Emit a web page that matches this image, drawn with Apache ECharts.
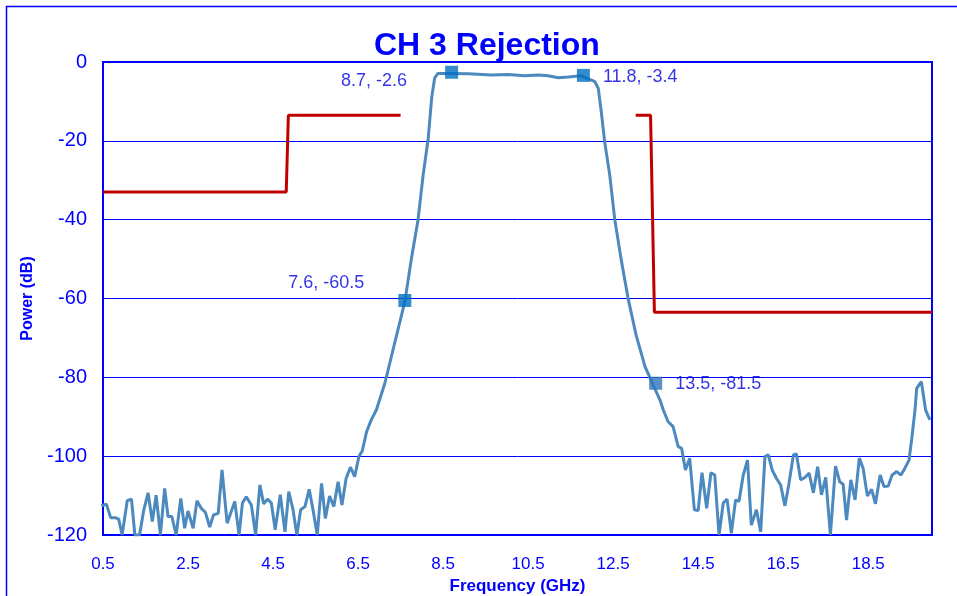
<!DOCTYPE html>
<html>
<head>
<meta charset="utf-8">
<title>CH 3 Rejection</title>
<script src="https://cdn.jsdelivr.net/npm/echarts@6/dist/echarts.min.js"></script>
<style>
  html, body { margin: 0; padding: 0; background: #fff; }
  #chart { width: 957px; height: 596px; }
</style>
</head>
<body>
<div id="chart"></div>
<script>
// x tick labels (GHz)
var freqTicks = [0.5, 2.5, 4.5, 6.5, 8.5, 10.5, 12.5, 14.5, 16.5, 18.5]

var measured = [
  [0.46, -112.6], [0.58, -112.2], [0.68, -115.6], [0.79, -115.6], [0.87, -116.0],
  [0.95, -120], [1.07, -111.3], [1.17, -110.9], [1.25, -120], [1.36, -120],
  [1.46, -113.6], [1.56, -109.3], [1.66, -116.6], [1.75, -109.9], [1.85, -120],
  [1.95, -108.2], [2.03, -115.3], [2.12, -115.3], [2.22, -120], [2.33, -110.7],
  [2.42, -118.3], [2.5, -113.9], [2.62, -118.3], [2.71, -111.3], [2.81, -113.2],
  [2.91, -114.3], [3.01, -118.0], [3.10, -114.9], [3.21, -114.5], [3.30, -103.5],
  [3.42, -117.0], [3.6, -111.5], [3.70, -120], [3.78, -111.9], [3.87, -110.3],
  [3.99, -112.4], [4.09, -120], [4.19, -107.3], [4.28, -112.1], [4.37, -110.9],
  [4.46, -111.9], [4.55, -118.7], [4.67, -109.8], [4.78, -119.2], [4.87, -109.0],
  [4.97, -113.6], [5.06, -120], [5.15, -113.6], [5.25, -112.8], [5.35, -108.4],
  [5.44, -113.6], [5.54, -120], [5.64, -106.9], [5.73, -115.8], [5.83, -110.1],
  [5.93, -112.8], [6.03, -106.5], [6.12, -112.4], [6.22, -105.6], [6.32, -102.8],
  [6.42, -105.2], [6.52, -100.1], [6.60, -98.6], [6.70, -93.8], [6.81, -90.8],
  [6.93, -88.3], [7.13, -81.5], [7.35, -71.8], [7.60, -60.8], [7.75, -50.2],
  [7.91, -40.1], [8.03, -28.7], [8.15, -19.4], [8.23, -9.2], [8.30, -4.1],
  [8.38, -2.9], [8.66, -2.9], [9.09, -3.0], [9.64, -3.3], [10.03, -3.2],
  [10.42, -3.5], [10.74, -3.3], [10.97, -3.5], [11.21, -4.0], [11.45, -3.8],
  [11.75, -3.5], [12.07, -5.0], [12.15, -6.7], [12.22, -12.6], [12.30, -20.2],
  [12.42, -28.7], [12.54, -40.1], [12.69, -50.2], [12.85, -59.9], [13.04, -69.3],
  [13.25, -77.3], [13.44, -81.9], [13.60, -85.7], [13.68, -88.3], [13.79, -91.2],
  [13.91, -92.5], [14.03, -97.6], [14.11, -98.0], [14.20, -103.5], [14.30, -100.5],
  [14.41, -113.6], [14.50, -113.8], [14.59, -104.2], [14.70, -113.2], [14.80, -104.2],
  [14.89, -104.8], [14.99, -120], [15.09, -111.9], [15.18, -110.9], [15.28, -119.6],
  [15.38, -111.1], [15.46, -111.5], [15.56, -104.8], [15.66, -101.0], [15.75, -117.5],
  [15.87, -113.6], [15.97, -119.2], [16.07, -100.1], [16.15, -99.7], [16.24, -103.5],
  [16.34, -105.6], [16.44, -107.3], [16.54, -112.6], [16.63, -107.3], [16.74, -99.7],
  [16.81, -99.4], [16.91, -106.0], [17.01, -105.4], [17.11, -104.3], [17.21, -109.3],
  [17.31, -102.7], [17.40, -109.8], [17.50, -105.4], [17.61, -120], [17.73, -102.5],
  [17.83, -106.5], [17.91, -107.1], [17.99, -116.2], [18.09, -106.0], [18.19, -111.1],
  [18.29, -100.5], [18.38, -103.1], [18.48, -110.1], [18.58, -108.4], [18.67, -112.1],
  [18.78, -104.8], [18.87, -107.7], [18.97, -107.6], [19.06, -104.8], [19.17, -103.9],
  [19.27, -104.8], [19.36, -103.1], [19.46, -101.0], [19.52, -95.9], [19.60, -88.3],
  [19.64, -82.8], [19.75, -81.1], [19.85, -88.3], [19.95, -90.8]
]

// rejection mask (red)
var maskLow = [[0.5, -33], [4.81, -33], [4.86, -13.5], [7.5, -13.5]]
var maskHigh = [[13.03, -13.5], [13.38, -13.5], [13.47, -63.5], [20, -63.5]]

// marked points
var markerFreq = [8.7, 11.8, 7.6, 13.5]
var markerPower = [-2.6, -3.4, -60.5, -81.5]

var blue = '#0000ff'
var font = 'Liberation Sans, Arial, sans-serif'

// where each marker label sits: side + nudge
var labelPlace = [
  { position: 'left', offset: [-33, 9] },
  { position: 'right', offset: [8, 2] },
  { position: 'left', offset: [-29, -17] },
  { position: 'right', offset: [8, 1] }
]

var markerData = markerFreq.map(function (f, i) {
  return {
    value: [f, markerPower[i]],
    itemStyle: { color: i === 3 ? '#2e75b6' : '#0070c0' },
    label: {
      show: true,
      position: labelPlace[i].position,
      offset: labelPlace[i].offset,
      formatter: f + ', ' + markerPower[i]
    }
  }
})

var chart = echarts.init(document.getElementById('chart'))
chart.setOption({
  animation: false,
  backgroundColor: '#fff',
  title: {
    text: 'CH 3 Rejection',
    left: 369,
    top: 25,
    textStyle: { fontFamily: font, fontSize: 32, fontWeight: 'bold', color: blue }
  },
  graphic: [{
    type: 'rect',
    shape: { x: 6.5, y: 6.5, width: 1000, height: 700 },
    style: { fill: 'none', stroke: blue, lineWidth: 1.5 },
    silent: true
  }],
  grid: {
    left: 103,
    right: 25,
    top: 62,
    bottom: 61,
    outerBoundsMode: 'none',
    show: true,
    borderColor: blue,
    borderWidth: 2,
    backgroundColor: 'transparent'
  },
  xAxis: {
    type: 'value',
    min: 0.5,
    max: 20,
    name: 'Frequency (GHz)',
    nameLocation: 'middle',
    nameGap: 40,
    nameTextStyle: { fontFamily: font, fontSize: 17, fontWeight: 'bold', color: blue },
    axisLine: { show: false },
    axisTick: { show: false },
    splitLine: { show: false },
    axisLabel: {
      customValues: freqTicks,
      margin: 21,
      fontFamily: font,
      fontSize: 17,
      color: blue,
      formatter: function (v) { return v.toFixed(1) }
    }
  },
  yAxis: {
    type: 'value',
    min: -120,
    max: 0,
    interval: 20,
    name: 'Power (dB)',
    nameLocation: 'middle',
    nameGap: 67,
    nameTextStyle: { fontFamily: font, fontSize: 16, fontWeight: 'bold', color: blue },
    axisLine: { show: false },
    axisTick: { show: false },
    splitLine: { show: true, lineStyle: { color: blue, width: 1 } },
    axisLabel: { margin: 16, fontFamily: font, fontSize: 20, color: blue }
  },
  series: [
    {
      type: 'line',
      data: maskLow,
      symbol: 'none',
      lineStyle: { color: '#c00000', width: 3 },
      z: 2
    },
    {
      type: 'line',
      data: maskHigh,
      symbol: 'none',
      lineStyle: { color: '#c00000', width: 3 },
      z: 2
    },
    {
      type: 'line',
      data: measured,
      symbol: 'none',
      clip: true,
      lineStyle: { color: '#4b89bf', width: 3 },
      z: 3
    },
    {
      type: 'scatter',
      data: markerData,
      symbol: 'rect',
      symbolSize: 13,
      label: { fontFamily: font, fontSize: 18, color: '#0000e0', distance: 5 },
      z: 4
    }
  ]
})
</script>
</body>
</html>
